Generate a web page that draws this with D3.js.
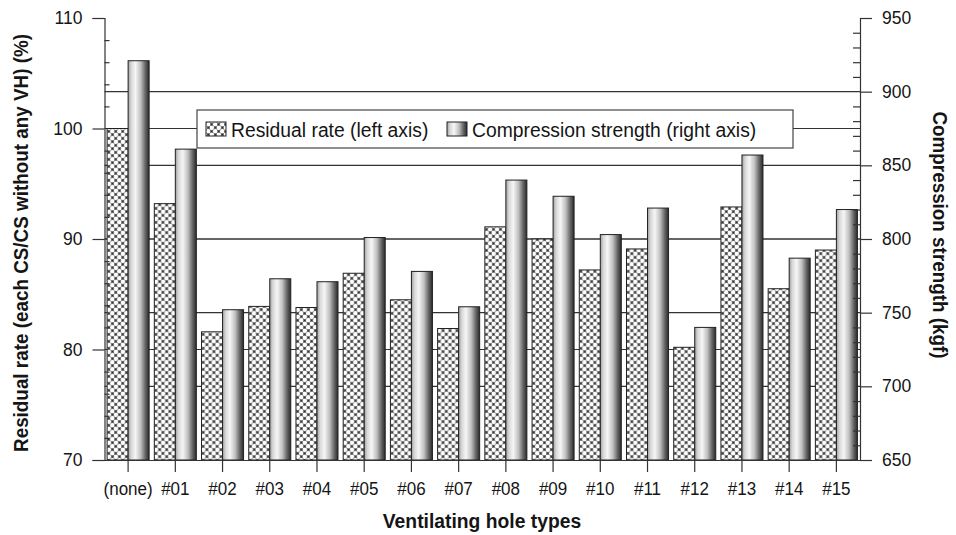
<!DOCTYPE html>
<html>
<head>
<meta charset="utf-8">
<script src="https://cdn.jsdelivr.net/npm/d3@7"></script>
<style>
  html, body { margin: 0; padding: 0; background: #fff; }
  svg { display: block; }
  text { font-family: "Liberation Sans", Arial, Helvetica, sans-serif; fill: #151515; }
</style>
</head>
<body>
<svg id="chart" width="956" height="535"></svg>
<script>
// Ventilating hole types on the x axis
const categories = ["(none)", "#01", "#02", "#03", "#04", "#05", "#06", "#07",
                    "#08", "#09", "#10", "#11", "#12", "#13", "#14", "#15"];
// Residual rate, % of the compression strength without any ventilating hole (left axis)
const residualRate = [100, 93.2, 81.6, 83.9, 83.8, 86.9, 84.5, 81.9,
                      91.1, 90.0, 87.2, 89.1, 80.2, 92.9, 85.5, 89.0];
// Compression strength, kgf (right axis)
const compressionStrength = [921, 861, 752, 773, 771, 801, 778, 754,
                             840, 829, 803, 821, 740, 857, 787, 820];
const leftTicks = [70, 80, 90, 100, 110];
const rightTicks = [650, 700, 750, 800, 850, 900, 950];
const seriesNames = ["Residual rate (left axis)", "Compression strength (right axis)"];

const svg = d3.select("#chart");
const plot = { left: 104.5, right: 860, top: 18, bottom: 460 };
const SX = 0.92; // horizontal squeeze used for condensed lettering

const yL = d3.scaleLinear().domain([70, 110]).range([plot.bottom, plot.top]);
const yR = d3.scaleLinear().domain([650, 950]).range([plot.bottom, plot.top]);
const x = d3.scaleBand().domain(categories).range([plot.left, plot.right])
  .paddingInner(0.11).paddingOuter(0.055);
const xs = d3.scaleBand().domain([0, 1]).range([0, x.bandwidth()]);

// ---- fills ----
const defs = svg.append("defs");
const P = 7;
const pat = defs.append("pattern").attr("id", "dots")
  .attr("patternUnits", "userSpaceOnUse").attr("width", P).attr("height", P);
pat.append("rect").attr("width", P).attr("height", P).attr("fill", "#7c7c7c");
pat.append("circle").attr("cx", P / 4).attr("cy", P / 4).attr("r", 2.2).attr("fill", "#fff");
pat.append("circle").attr("cx", 3 * P / 4).attr("cy", 3 * P / 4).attr("r", 2.2).attr("fill", "#fff");
pat.append("rect").attr("x", 3 * P / 4 - 0.7).attr("y", P / 4 - 0.7).attr("width", 1.4).attr("height", 1.4).attr("fill", "#2a2a2a");
pat.append("rect").attr("x", P / 4 - 0.7).attr("y", 3 * P / 4 - 0.7).attr("width", 1.4).attr("height", 1.4).attr("fill", "#2a2a2a");

const grad = defs.append("linearGradient").attr("id", "cyl")
  .attr("x1", 0).attr("x2", 1).attr("y1", 0).attr("y2", 0);
[[0, "#a0a0a0"], [0.15, "#d8d8d8"], [0.35, "#f6f6f6"], [0.6, "#c0c0c0"],
 [0.82, "#666"], [1, "#2a2a2a"]].forEach(([o, c]) =>
  grad.append("stop").attr("offset", o).attr("stop-color", c));

// ---- gridlines at the major ticks of both axes ----
const gridYs = leftTicks.filter(v => v > 70 && v < 110).map(yL)
  .concat(rightTicks.filter(v => v > 650 && v < 950).map(yR));
svg.append("g").selectAll("line").data(gridYs).join("line")
  .attr("x1", plot.left).attr("x2", plot.right)
  .attr("y1", d => d).attr("y2", d => d)
  .attr("stroke", "#333").attr("stroke-width", 1.2);

// ---- bars ----
const groups = svg.append("g").selectAll("g").data(categories).join("g")
  .attr("transform", d => `translate(${x(d)},0)`);
groups.append("rect")
  .attr("x", xs(0)).attr("width", xs.bandwidth())
  .attr("y", (d, i) => yL(residualRate[i]))
  .attr("height", (d, i) => yL(70) - yL(residualRate[i]))
  .attr("fill", "url(#dots)").attr("stroke", "#222").attr("stroke-width", 1);
groups.append("rect")
  .attr("x", xs(1)).attr("width", xs.bandwidth())
  .attr("y", (d, i) => yR(compressionStrength[i]))
  .attr("height", (d, i) => yR(650) - yR(compressionStrength[i]))
  .attr("fill", "url(#cyl)").attr("stroke", "#222").attr("stroke-width", 1);

// ---- axes ----
const axisStyle = g => {
  g.selectAll("path, line").attr("stroke", "#333").attr("stroke-width", 1.2);
  g.selectAll("text").attr("fill", "#151515").attr("font-family", null);
};

// left axis: major ticks outward, minor ticks inward every 2 %
svg.append("g").attr("transform", `translate(${plot.left},0)`)
  .call(d3.axisLeft(yL).tickValues(leftTicks).tickSize(12).tickPadding(10))
  .call(axisStyle)
  .call(g => g.selectAll("text").attr("font-size", 17.5));
svg.append("g").attr("transform", `translate(${plot.left},0)`)
  .call(d3.axisRight(yL).tickValues(d3.range(72, 110, 2).filter(v => v % 10 !== 0))
    .tickSize(5).tickFormat("").tickSizeOuter(0))
  .call(axisStyle).call(g => g.select("path").remove());

// right axis: major ticks outward, minor ticks inward every 10 kgf
svg.append("g").attr("transform", `translate(${plot.right},0)`)
  .call(d3.axisRight(yR).tickValues(rightTicks).tickSize(12).tickPadding(10))
  .call(axisStyle)
  .call(g => g.selectAll("text").attr("font-size", 17.5));
svg.append("g").attr("transform", `translate(${plot.right},0)`)
  .call(d3.axisLeft(yR).tickValues(d3.range(660, 950, 10).filter(v => v % 50 !== 0))
    .tickSize(7).tickFormat("").tickSizeOuter(0))
  .call(axisStyle).call(g => g.select("path").remove());

// bottom axis with a tick under each group
svg.append("g").attr("transform", `translate(0,${plot.bottom})`)
  .call(d3.axisBottom(x).tickSize(12).tickSizeOuter(0).tickPadding(10))
  .call(axisStyle)
  .call(g => g.selectAll("text").attr("font-size", 18.5)
    .attr("transform", `scale(${SX},1)`));

// ---- axis titles ----
function squeezed(xp, yp, rot, txt, size, weight, anchor) {
  svg.append("text")
    .attr("transform", `translate(${xp},${yp}) rotate(${rot}) scale(${SX},1)`)
    .attr("text-anchor", anchor).attr("font-size", size)
    .attr("font-weight", weight).text(txt);
}
squeezed(482, 528, 0, "Ventilating hole types", 21, "bold", "middle");
squeezed(28, 243, -90, "Residual rate (each CS/CS without any VH) (%)", 20.5, "bold", "middle");
squeezed(933, 235, 90, "Compression strength (kgf)", 20.5, "bold", "middle");

// ---- legend ----
const lg = svg.append("g");
lg.append("rect").attr("x", 197).attr("y", 110).attr("width", 596).attr("height", 38)
  .attr("fill", "#fff").attr("stroke", "#444").attr("stroke-width", 1.2);
const legendItems = [
  { x: 206, fill: "url(#dots)", label: seriesNames[0] },
  { x: 447, fill: "url(#cyl)", label: seriesNames[1] }
];
legendItems.forEach(it => {
  lg.append("rect").attr("x", it.x).attr("y", 122).attr("width", 20).attr("height", 14)
    .attr("fill", it.fill).attr("stroke", "#222").attr("stroke-width", 1);
  lg.append("text").attr("transform", `translate(${it.x + 25},137) scale(${SX},1)`)
    .attr("font-size", 21).text(it.label);
});
</script>
</body>
</html>
